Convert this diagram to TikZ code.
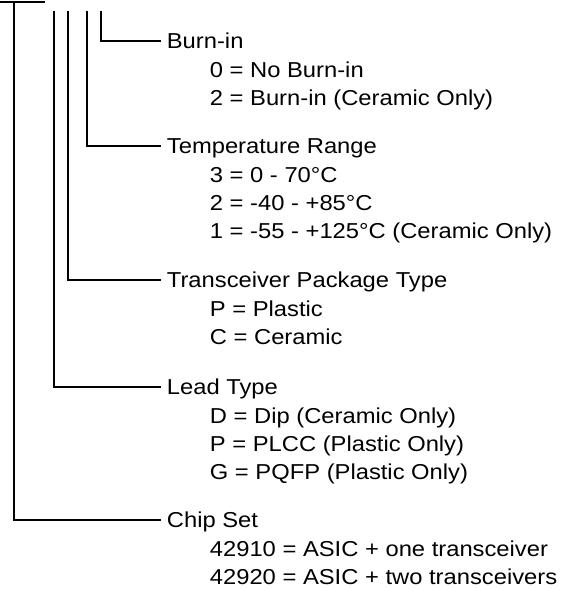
\documentclass[tikz,border=0pt]{standalone}
\usepackage{fontspec}
\setmainfont{Liberation Sans}[FakeStretch=1.1]
\begin{document}
\begin{tikzpicture}[x=0.5pt, y=-0.5pt, line width=0.9pt,
      field/.style={anchor=west, inner xsep=2.5pt, inner ysep=0pt, text height=0.716em, text depth=0pt, font=\fontsize{10.8}{13}\selectfont},
      code/.style={anchor=base west, inner sep=0pt, font=\fontsize{10.8}{13}\selectfont}]
    \useasboundingbox (0,0) rectangle (576,589);
    \coordinate (boxLeft) at (0,2);
    \coordinate (boxRight) at (45,2);
    \coordinate (chipTop) at (14,2);
    \coordinate (leadTop) at (54,11);
    \coordinate (pkgTop) at (68,11);
    \coordinate (tempTop) at (87,11);
    \coordinate (burnTop) at (101,11);
    \draw (boxLeft) -- (boxRight);
    \node[field] (burn) at (161,41) {Burn-in};
    \node[code] (burn0) at (209,77) {0 = No Burn-in};
    \node[code] (burn2) at (209,105) {2 = Burn-in (Ceramic Only)};
    \node[field] (temp) at (161,146) {Temperature Range};
    \node[code] (temp3) at (209,182) {3 = 0 - 70°C};
    \node[code] (temp2) at (209,210) {2 = -40 - +85°C};
    \node[code] (temp1) at (209,238) {1 = -55 - +125°C (Ceramic Only)};
    \node[field] (pkg) at (161,280) {Transceiver Package Type};
    \node[code] (pkgP) at (209,316) {P = Plastic};
    \node[code] (pkgC) at (209,344) {C = Ceramic};
    \node[field] (lead) at (161,387) {Lead Type};
    \node[code] (leadD) at (209,423) {D = Dip (Ceramic Only)};
    \node[code] (leadP) at (209,451) {P = PLCC (Plastic Only)};
    \node[code] (leadG) at (209,479) {G = PQFP (Plastic Only)};
    \node[field] (chip) at (161,520) {Chip Set};
    \node[code] (chip1) at (209,556) {42910 = ASIC + one transceiver};
    \node[code] (chip2) at (209,584) {42920 = ASIC + two transceivers};
    \draw (burnTop) |- (burn.west);
    \draw (tempTop) |- (temp.west);
    \draw (pkgTop) |- (pkg.west);
    \draw (leadTop) |- (lead.west);
    \draw (chipTop) |- (chip.west);
  \end{tikzpicture}
\end{document}
